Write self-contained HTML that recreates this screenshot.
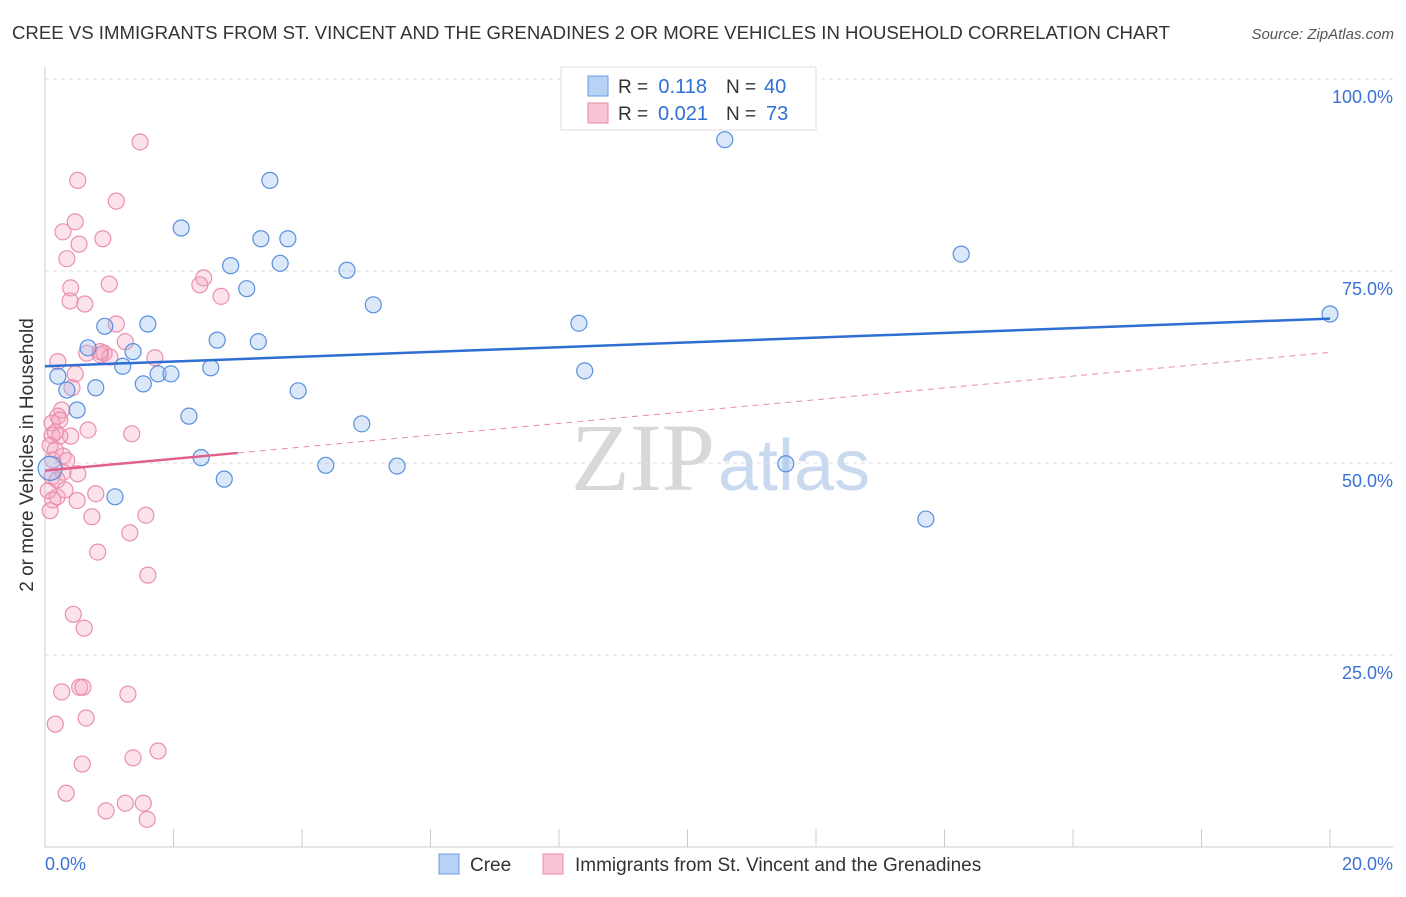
<!DOCTYPE html>
<html><head><meta charset="utf-8"><style>
body{margin:0;background:#fff;font-family:"Liberation Sans",sans-serif}
svg text{font-family:"Liberation Sans",sans-serif}
</style></head><body>
<svg id="c" width="1406" height="892">
<text x="12" y="39" font-size="18.6" fill="#333">CREE VS IMMIGRANTS FROM ST. VINCENT AND THE GRENADINES 2 OR MORE VEHICLES IN HOUSEHOLD CORRELATION CHART</text>
<text x="1394" y="39" font-size="15" fill="#555" font-style="italic" text-anchor="end">Source: ZipAtlas.com</text>
<text x="715" y="490" font-size="96" fill="#d8d8d8" text-anchor="end" font-family="Liberation Serif" style="font-family:'Liberation Serif',serif">ZIP</text>
<text x="718" y="490" font-size="72" fill="#c9d9f0">atlas</text>
<text transform="translate(33,455) rotate(-90)" font-size="19" fill="#333" text-anchor="middle">2 or more Vehicles in Household</text>
<g id="grid"></g><g id="marks"></g>
<g>
<rect x="561" y="67" width="255" height="63" fill="#fff" stroke="#ddd"/>
<rect x="588" y="76" width="20" height="20" fill="#b8d2f5" stroke="#6a9be0"/>
<rect x="588" y="103" width="20" height="20" fill="#f8c4d6" stroke="#e88aaa"/>
<text x="618" y="93" font-size="19" fill="#333">R =</text>
<text x="707" y="93" font-size="20" fill="#2e6fd6" text-anchor="end">0.118</text>
<text x="726" y="93" font-size="19" fill="#333">N =</text>
<text x="764" y="93" font-size="20" fill="#2e6fd6">40</text>
<text x="618" y="120" font-size="19" fill="#333">R =</text>
<text x="708" y="120" font-size="20" fill="#2e6fd6" text-anchor="end">0.021</text>
<text x="726" y="120" font-size="19" fill="#333">N =</text>
<text x="766" y="120" font-size="20" fill="#2e6fd6">73</text>
</g>
<g>
<rect x="439" y="854" width="20" height="20" fill="#b8d2f5" stroke="#6a9be0"/>
<text x="470" y="871" font-size="19" fill="#333">Cree</text>
<rect x="543" y="854" width="20" height="20" fill="#f8c4d6" stroke="#e88aaa"/>
<text x="575" y="871" font-size="19" fill="#333">Immigrants from St. Vincent and the Grenadines</text>
</g>
</svg>
<script>
const xTicks=[0,2,4,6,8,10,12,14,16,18,20];
const yTicks=[25,50,75,100];
const yTickLabels=["25.0%","50.0%","75.0%","100.0%"];
const creeX=[10.58,3.50,2.12,3.36,3.78,14.26,2.89,3.66,4.70,3.14,5.11,20.0,1.60,0.93,8.31,2.68,3.32,0.67,1.37,1.21,2.58,1.76,1.96,0.20,1.53,0.79,0.34,3.94,8.40,0.50,2.24,4.93,2.43,4.37,5.48,11.53,2.79,1.09,13.71,0.08];
const creeY=[92.1,86.8,80.6,79.2,79.2,77.2,75.7,76.0,75.1,72.7,70.6,69.4,68.1,67.8,68.2,66.0,65.8,65.0,64.5,62.6,62.4,61.6,61.6,61.3,60.3,59.8,59.5,59.4,62.0,56.9,56.1,55.1,50.7,49.7,49.6,49.9,47.9,45.6,42.7,49.3];
const immX=[1.48,0.51,1.11,0.47,0.28,0.90,0.53,0.34,2.47,2.41,1.00,2.74,0.40,0.39,0.62,1.11,1.25,0.65,0.92,1.01,0.86,0.20,1.71,0.47,0.42,0.26,0.20,0.11,0.40,0.23,0.11,0.16,0.67,1.35,0.28,0.34,0.28,0.51,0.11,0.05,0.19,0.12,0.79,0.50,0.08,0.73,1.57,1.32,0.82,1.60,0.44,0.61,0.26,0.54,0.59,1.29,0.16,0.64,1.76,1.37,0.58,0.33,1.25,1.53,0.95,1.59,0.12,0.19,0.31,0.86,0.23,0.08,0.16];
const immY=[91.8,86.8,84.1,81.4,80.1,79.2,78.5,76.6,74.1,73.2,73.3,71.7,72.8,71.1,70.7,68.1,65.8,64.3,64.3,63.8,64.1,63.2,63.7,61.6,59.8,56.9,56.1,55.2,53.5,53.5,53.6,54.0,54.3,53.8,50.9,50.3,48.8,48.6,48.2,46.4,45.6,45.2,46.0,45.1,43.8,43.0,43.2,40.9,38.4,35.4,30.3,28.5,20.2,20.8,20.8,19.9,16.0,16.8,12.5,11.6,10.8,7.0,5.7,5.7,4.7,3.6,50.4,47.8,46.5,64.5,55.6,52.3,51.7];
const creeTrend=[62.6,68.8];
const immTrend=[49.0,64.4];
const immSolidEnd=3.0;
const NS="http://www.w3.org/2000/svg";
const X=v=>45+v*64.25, Y=v=>847-v*7.68;
function mk(t,a,p){const e=document.createElementNS(NS,t);for(const k in a)e.setAttribute(k,a[k]);p.appendChild(e);return e;}
const g=document.getElementById('grid'),m=document.getElementById('marks');
yTicks.forEach((t,i)=>{
 const l=mk('line',{x1:45,x2:1393,y1:Y(t),y2:Y(t),stroke:'#ddd','stroke-dasharray':'4,4'},g);
 
 
 const tx=mk('text',{x:1393,y:Y(t)+24,'font-size':18,fill:'#3b72d6','text-anchor':'end'},g);tx.textContent=yTickLabels[i];
 
 
});
mk('line',{x1:45,x2:45,y1:67,y2:847,stroke:'#ccc'},g);
mk('line',{x1:45,x2:1393,y1:847,y2:847,stroke:'#ccc'},g);
xTicks.forEach(t=>{const l=mk('line',{x1:X(t),x2:X(t),y1:829,y2:847,stroke:'#ccc'},g);
 
 });
const x0=mk('text',{x:45,y:870,'font-size':18,fill:'#3b72d6'},g);x0.textContent=xTicks[0].toFixed(1)+'%';


const x1=mk('text',{x:1393,y:870,'font-size':18,fill:'#3b72d6','text-anchor':'end'},g);x1.textContent=xTicks[xTicks.length-1].toFixed(1)+'%';


immX.forEach((v,i)=>{const c=mk('circle',{cx:X(v),cy:Y(immY[i]),r:8,fill:'rgba(244,160,190,0.3)',stroke:'#e990ae','stroke-width':1.2},m);
 
 });
creeX.forEach((v,i)=>{const c=mk('circle',{cx:X(v),cy:Y(creeY[i]),r:v<0.1?12:8,fill:'rgba(150,190,240,0.35)',stroke:'#5a8fdc','stroke-width':1.2},m);
 
 });
const it=v=>immTrend[0]+(immTrend[1]-immTrend[0])*v/20;
const pd=mk('line',{x1:X(immSolidEnd),y1:Y(it(immSolidEnd)),x2:X(20),y2:Y(immTrend[1]),stroke:'#e98aa9','stroke-width':1,'stroke-dasharray':'6,5'},m);


const ps=mk('line',{x1:X(0),y1:Y(immTrend[0]),x2:X(immSolidEnd),y2:Y(it(immSolidEnd)),stroke:'#e0608a','stroke-width':2.5},m);


const bl=mk('line',{x1:X(0),y1:Y(creeTrend[0]),x2:X(20),y2:Y(creeTrend[1]),stroke:'#2f6fd3','stroke-width':2.5},m);


</script>
</body></html>
